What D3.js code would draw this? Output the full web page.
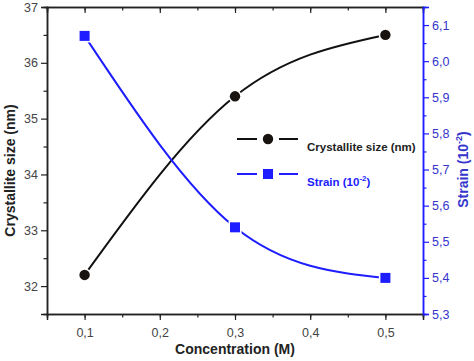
<!DOCTYPE html>
<html>
<head>
<meta charset="utf-8">
<script src="https://cdn.jsdelivr.net/npm/d3@7"></script>
<style>
  body { margin: 0; background: #fff; }
  svg { font-family: "Liberation Sans", Arial, sans-serif; }
</style>
</head>
<body>
<div id="wrapper"></div>
<script>
// data
const concentration = [0.1, 0.3, 0.5]
const crystalliteSize = [32.2, 35.4, 36.5]
const strain = [6.07, 5.54, 5.40]
const xTicks = [0.1, 0.2, 0.3, 0.4, 0.5]
const leftTicks = [32, 33, 34, 35, 36, 37]
const rightTicks = [5.3, 5.4, 5.5, 5.6, 5.7, 5.8, 5.9, 6.0, 6.1]

const blue = "#1d1dff"
const blueText = "#3535cc"

let dimensions = {
  width: 474,
  height: 361,
  margin: { top: 7, right: 51, bottom: 47, left: 47 },
}
dimensions.boundedWidth = dimensions.width - dimensions.margin.left - dimensions.margin.right
dimensions.boundedHeight = dimensions.height - dimensions.margin.top - dimensions.margin.bottom

const svg = d3.select("#wrapper")
  .append("svg")
    .attr("width", dimensions.width)
    .attr("height", dimensions.height)

const bounds = svg.append("g")
  .attr("transform", `translate(${dimensions.margin.left},${dimensions.margin.top})`)

// scales
const xScale = d3.scaleLinear()
  .domain([0.05, 0.55])
  .range([0, dimensions.boundedWidth])
const yLeft = d3.scaleLinear()
  .domain([31.5, 37])
  .range([dimensions.boundedHeight, 0])
const yRight = d3.scaleLinear()
  .domain([5.3, 6.15])
  .range([dimensions.boundedHeight, 0])

const comma = d => d3.format(".1f")(d).replace(".", ",")

// helper to tidy axis groups
function styleAxis(g, color, labelColor) {
  g.select(".domain").attr("stroke", color).attr("stroke-width", 1.5)
  g.selectAll(".tick line").attr("stroke", color).attr("stroke-width", 1.2)
  g.selectAll(".tick text")
    .attr("fill", labelColor)
    .style("font-size", "12.5px")
    .style("font-family", "Liberation Sans, Arial, sans-serif")
}

// minor ticks first (no labels)
const minorX = d3.range(0.05, 0.5501, 0.05)
bounds.append("g")
  .attr("transform", `translate(0,${dimensions.boundedHeight})`)
  .call(d3.axisBottom(xScale).tickValues(minorX).tickSize(3.5).tickFormat(""))
  .call(g => styleAxis(g, "#222", "#444"))
bounds.append("g")
  .call(d3.axisTop(xScale).tickValues(minorX).tickSize(-3.5).tickFormat(""))
  .call(g => styleAxis(g, "#222", "#444"))
bounds.append("g")
  .call(d3.axisLeft(yLeft).tickValues(d3.range(32.5, 37, 1)).tickSize(3.5).tickFormat(""))
  .call(g => styleAxis(g, "#222", "#444"))
bounds.append("g")
  .attr("transform", `translate(${dimensions.boundedWidth},0)`)
  .call(d3.axisRight(yRight).tickValues(d3.range(5.35, 6.15, 0.1)).tickSize(3.5).tickFormat(""))
  .call(g => styleAxis(g, blue, blueText))

// major axes
const xAxis = bounds.append("g")
  .attr("transform", `translate(0,${dimensions.boundedHeight})`)
  .call(d3.axisBottom(xScale).tickValues(xTicks).tickSize(6).tickPadding(8).tickFormat(comma))
  .call(g => styleAxis(g, "#222", "#444"))
bounds.append("g")
  .call(d3.axisTop(xScale).tickValues(xTicks).tickSize(-6).tickFormat(""))
  .call(g => styleAxis(g, "#222", "#444"))
const leftAxis = bounds.append("g")
  .call(d3.axisLeft(yLeft).tickValues(leftTicks).tickSize(6).tickPadding(3).tickFormat(d3.format("d")))
  .call(g => styleAxis(g, "#222", "#444"))
const rightAxis = bounds.append("g")
  .attr("transform", `translate(${dimensions.boundedWidth},0)`)
  .call(d3.axisRight(yRight).tickValues(rightTicks).tickSize(6).tickPadding(3).tickFormat(comma))
  .call(g => styleAxis(g, blue, blueText))

// series
const crystalData = concentration.map((c, i) => ({ x: c, y: crystalliteSize[i] }))
const strainData = concentration.map((c, i) => ({ x: c, y: strain[i] }))

const lineLeft = d3.line()
  .x(d => xScale(d.x))
  .y(d => yLeft(d.y))
  .curve(d3.curveNatural)
const lineRight = d3.line()
  .x(d => xScale(d.x))
  .y(d => yRight(d.y))
  .curve(d3.curveNatural)

bounds.append("path")
  .attr("d", lineLeft(crystalData))
  .attr("fill", "none")
  .attr("stroke", "#111")
  .attr("stroke-width", 2)
bounds.append("path")
  .attr("d", lineRight(strainData))
  .attr("fill", "none")
  .attr("stroke", blue)
  .attr("stroke-width", 2)

// markers with a white halo so the line stops short of them
bounds.selectAll(".dot")
  .data(crystalData)
  .join("circle")
    .attr("cx", d => xScale(d.x))
    .attr("cy", d => yLeft(d.y))
    .attr("r", 5.2)
    .attr("fill", "#1a1410")
    .attr("stroke", "#fff")
    .attr("stroke-width", 3)
    .style("paint-order", "stroke")
bounds.selectAll(".sq")
  .data(strainData)
  .join("rect")
    .attr("x", d => xScale(d.x) - 5)
    .attr("y", d => yRight(d.y) - 5)
    .attr("width", 10)
    .attr("height", 10)
    .attr("fill", blue)
    .attr("stroke", "#fff")
    .attr("stroke-width", 3)
    .style("paint-order", "stroke")

// legend
const legend = svg.append("g")
const legendRows = [
  { y: 139, color: "#111", text: "Crystallite size (nm)", shape: "circle" },
  { y: 174, color: blue, text: "Strain (10", sup: "-2", after: ")", shape: "square" },
]
legendRows.forEach(r => {
  legend.append("line").attr("x1", 237).attr("x2", 257).attr("y1", r.y).attr("y2", r.y)
    .attr("stroke", r.color).attr("stroke-width", 2)
  legend.append("line").attr("x1", 279).attr("x2", 298).attr("y1", r.y).attr("y2", r.y)
    .attr("stroke", r.color).attr("stroke-width", 2)
  if (r.shape == "circle") {
    legend.append("circle").attr("cx", 268).attr("cy", r.y).attr("r", 5.2).attr("fill", "#1a1410")
  } else {
    legend.append("rect").attr("x", 263).attr("y", r.y - 5).attr("width", 10).attr("height", 10).attr("fill", blue)
  }
  const t = legend.append("text")
    .attr("x", 307).attr("y", r.y + 12)
    .attr("fill", r.color == blue ? blue : "#222")
    .style("font-size", "11.5px").style("font-weight", "bold")
    .text(r.text)
  if (r.sup) {
    t.append("tspan").attr("dy", -5).style("font-size", "8px").text(r.sup)
    t.append("tspan").attr("dy", 5).text(r.after)
  }
})

// axis titles
svg.append("text")
  .attr("x", dimensions.margin.left + xScale(0.3))
  .attr("y", 354)
  .attr("text-anchor", "middle")
  .attr("fill", "#222")
  .style("font-size", "14px").style("font-weight", "bold")
  .text("Concentration (M)")

svg.append("text")
  .attr("transform", `translate(15,${dimensions.margin.top + dimensions.boundedHeight / 2 + 10}) rotate(-90)`)
  .attr("text-anchor", "middle")
  .attr("fill", "#222")
  .style("font-size", "14px").style("font-weight", "bold")
  .text("Crystallite size (nm)")

const rt = svg.append("text")
  .attr("transform", `translate(468,${dimensions.margin.top + yRight(5.7)}) rotate(-90)`)
  .attr("text-anchor", "middle")
  .attr("fill", blueText)
  .style("font-size", "14px").style("font-weight", "bold")
  .text("Strain (10")
rt.append("tspan").attr("dy", -6).style("font-size", "9px").text("-2")
rt.append("tspan").attr("dy", 6).text(")")
</script>
</body>
</html>
